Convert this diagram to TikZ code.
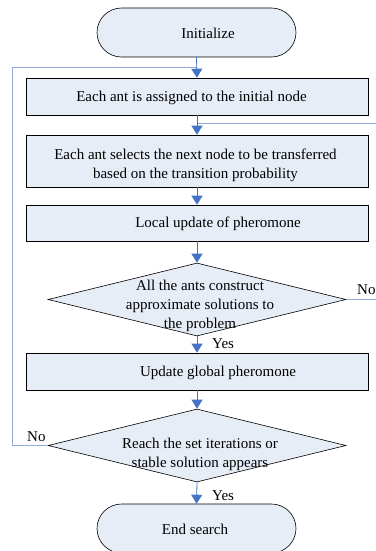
\documentclass[tikz,border=0pt]{standalone}
\usepackage{fontspec}
\setmainfont{Liberation Serif}
\usetikzlibrary{shapes.misc,shapes.geometric,arrows.meta}
\definecolor{boxfill}{HTML}{E7EDF6}
\definecolor{flowblue}{HTML}{4472C4}
\definecolor{loopblue}{HTML}{8FAADC}

\begin{document}
\begin{tikzpicture}[x=1pt,y=-1pt,
  font=\fontsize{15}{19}\selectfont,
  term/.style={rounded rectangle,draw=black,fill=boxfill,line width=0.6pt,minimum width=199pt,minimum height=49pt,inner sep=0pt},
  proc/.style={rectangle,draw=black,fill=boxfill,line width=0.6pt,minimum width=342pt,inner sep=0pt},
  decision/.style={diamond,draw=black,fill=boxfill,line width=0.6pt,minimum width=298pt,minimum height=73pt,inner sep=0pt},
  txt/.style={align=center,inner sep=0pt},
  flow/.style={flowblue,line width=0.8pt,-{Triangle[width=11pt,length=9pt]}},
  loop/.style={loopblue,line width=0.8pt}]
\useasboundingbox (0,0) rectangle (375,551);
% shapes
\node [term] (init) at (196.5,32.5) {};
\node [proc,minimum height=37pt] (assign) at (197,96.5) {};
\node [proc,minimum height=52pt] (select) at (197,161) {};
\node [proc,minimum height=36pt] (local) at (197,223) {};
\node [decision] (check) at (197,299.5) {};
\node [proc,minimum height=37pt] (global) at (197,371.5) {};
\node [decision] (stop) at (197,445.5) {};
\node [term] (finish) at (196.5,528.5) {};
% texts
\node [txt] (inittext) at (208,33) {Initialize};
\node [txt] (assigntext) at (191.5,97.5) {Each ant is assigned to the initial node};
\node [txt] (selecttext) at (195.5,165) {Each ant selects the next node to be transferred\\based on the transition probability};
\node [txt] (localtext) at (218,224) {Local update of pheromone};
\node [txt] (checktext) at (200,306) {All the ants construct\\approximate solutions to\\the problem};
\node [txt] (globaltext) at (218,373) {Update global pheromone};
\node [txt] (stoptext) at (200,454) {Reach the set iterations or\\stable solution appears};
\node [txt] (finishtext) at (195,529) {End search};
% joints of the loops
\coordinate (jointA) at (197,67);
\coordinate (jointB) at (197,123);
\coordinate (leftA) at (12,67);
\coordinate (leftB) at (12,445.5);
\coordinate (rightA) at (380,123);
\coordinate (rightB) at (380,299.5);
\draw [loop] (stop.west)--(leftB)--(leftA)--(jointA);
\draw [loop] (check.east)--(rightB)--(rightA)--(jointB);
\draw [flow] (init.south)--(assign.north);
\draw [flow] (assign.south)--(select.north);
\draw [flow] (select.south)--(local.north);
\draw [flow] (local.south)--(check.north);
\draw [flow] (check.south)--(global.north);
\draw [flow] (global.south)--(stop.north);
\draw [flow] (stop.south)--(finish.north);
\node [anchor=west,inner sep=0pt] (yesA) at (212,344) {Yes};
\node [anchor=west,inner sep=0pt] (yesB) at (212,496) {Yes};
\node [anchor=west,inner sep=0pt] (noA) at (357,290) {No};
\node [anchor=west,inner sep=0pt] (noB) at (27,437) {No};
\end{tikzpicture}
\end{document}
